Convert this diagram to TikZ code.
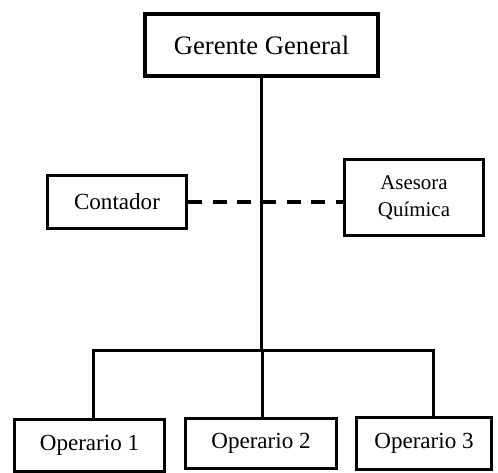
\documentclass[tikz,border=0pt]{standalone}
\usepackage{fontspec}
\setmainfont{Liberation Serif}
\begin{document}
\begin{tikzpicture}[x=0.75pt,y=-0.75pt,
  box/.style={draw=black, fill=white, line width=2.25pt, inner sep=0pt, align=center},
  conn/.style={draw=black, line width=2.25pt},
  dashconn/.style={draw=black, line width=2.4pt, dash pattern=on 10.5pt off 8pt}]
\useasboundingbox (0,0) rectangle (498,472);
\node[box, line width=3pt, minimum width=233*0.75pt, minimum height=62*0.75pt, font=\fontsize{20}{24}\selectfont] (g) at (261.5,45) {Gerente General};
\node[box, minimum width=139*0.75pt, minimum height=53*0.75pt, font=\fontsize{17.3}{20}\selectfont] (c) at (117,202) {Contador};
\node[box, minimum width=139*0.75pt, minimum height=76*0.75pt, font=\fontsize{15.7}{20}\selectfont] (a) at (414,197.5) {Asesora\\Química};
\node[box, minimum width=150*0.75pt, minimum height=52*0.75pt, font=\fontsize{17.3}{20}\selectfont] (o1) at (89.5,445) {Operario 1};
\node[box, minimum width=151*0.75pt, minimum height=50*0.75pt, font=\fontsize{17.3}{20}\selectfont] (o2) at (261,443.5) {Operario 2};
\node[box, minimum width=135*0.75pt, minimum height=52*0.75pt, font=\fontsize{17.3}{20}\selectfont] (o3) at (424,443.5) {Operario 3};
\coordinate (b1) at (93,350);
\coordinate (b3) at (433,350);
\coordinate (bm) at (262,350);
\draw[dashconn] (c.east) -- (a.west |- c.east);
\draw[conn] (g.south) -- (g.south |- bm);
\draw[conn, line cap=rect] (b1) -- (b3);
\draw[conn] (b1) -- (b1 |- o1.north);
\draw[conn] (bm) -- (bm |- o2.north);
\draw[conn] (b3) -- (b3 |- o3.north);
\end{tikzpicture}
\end{document}
